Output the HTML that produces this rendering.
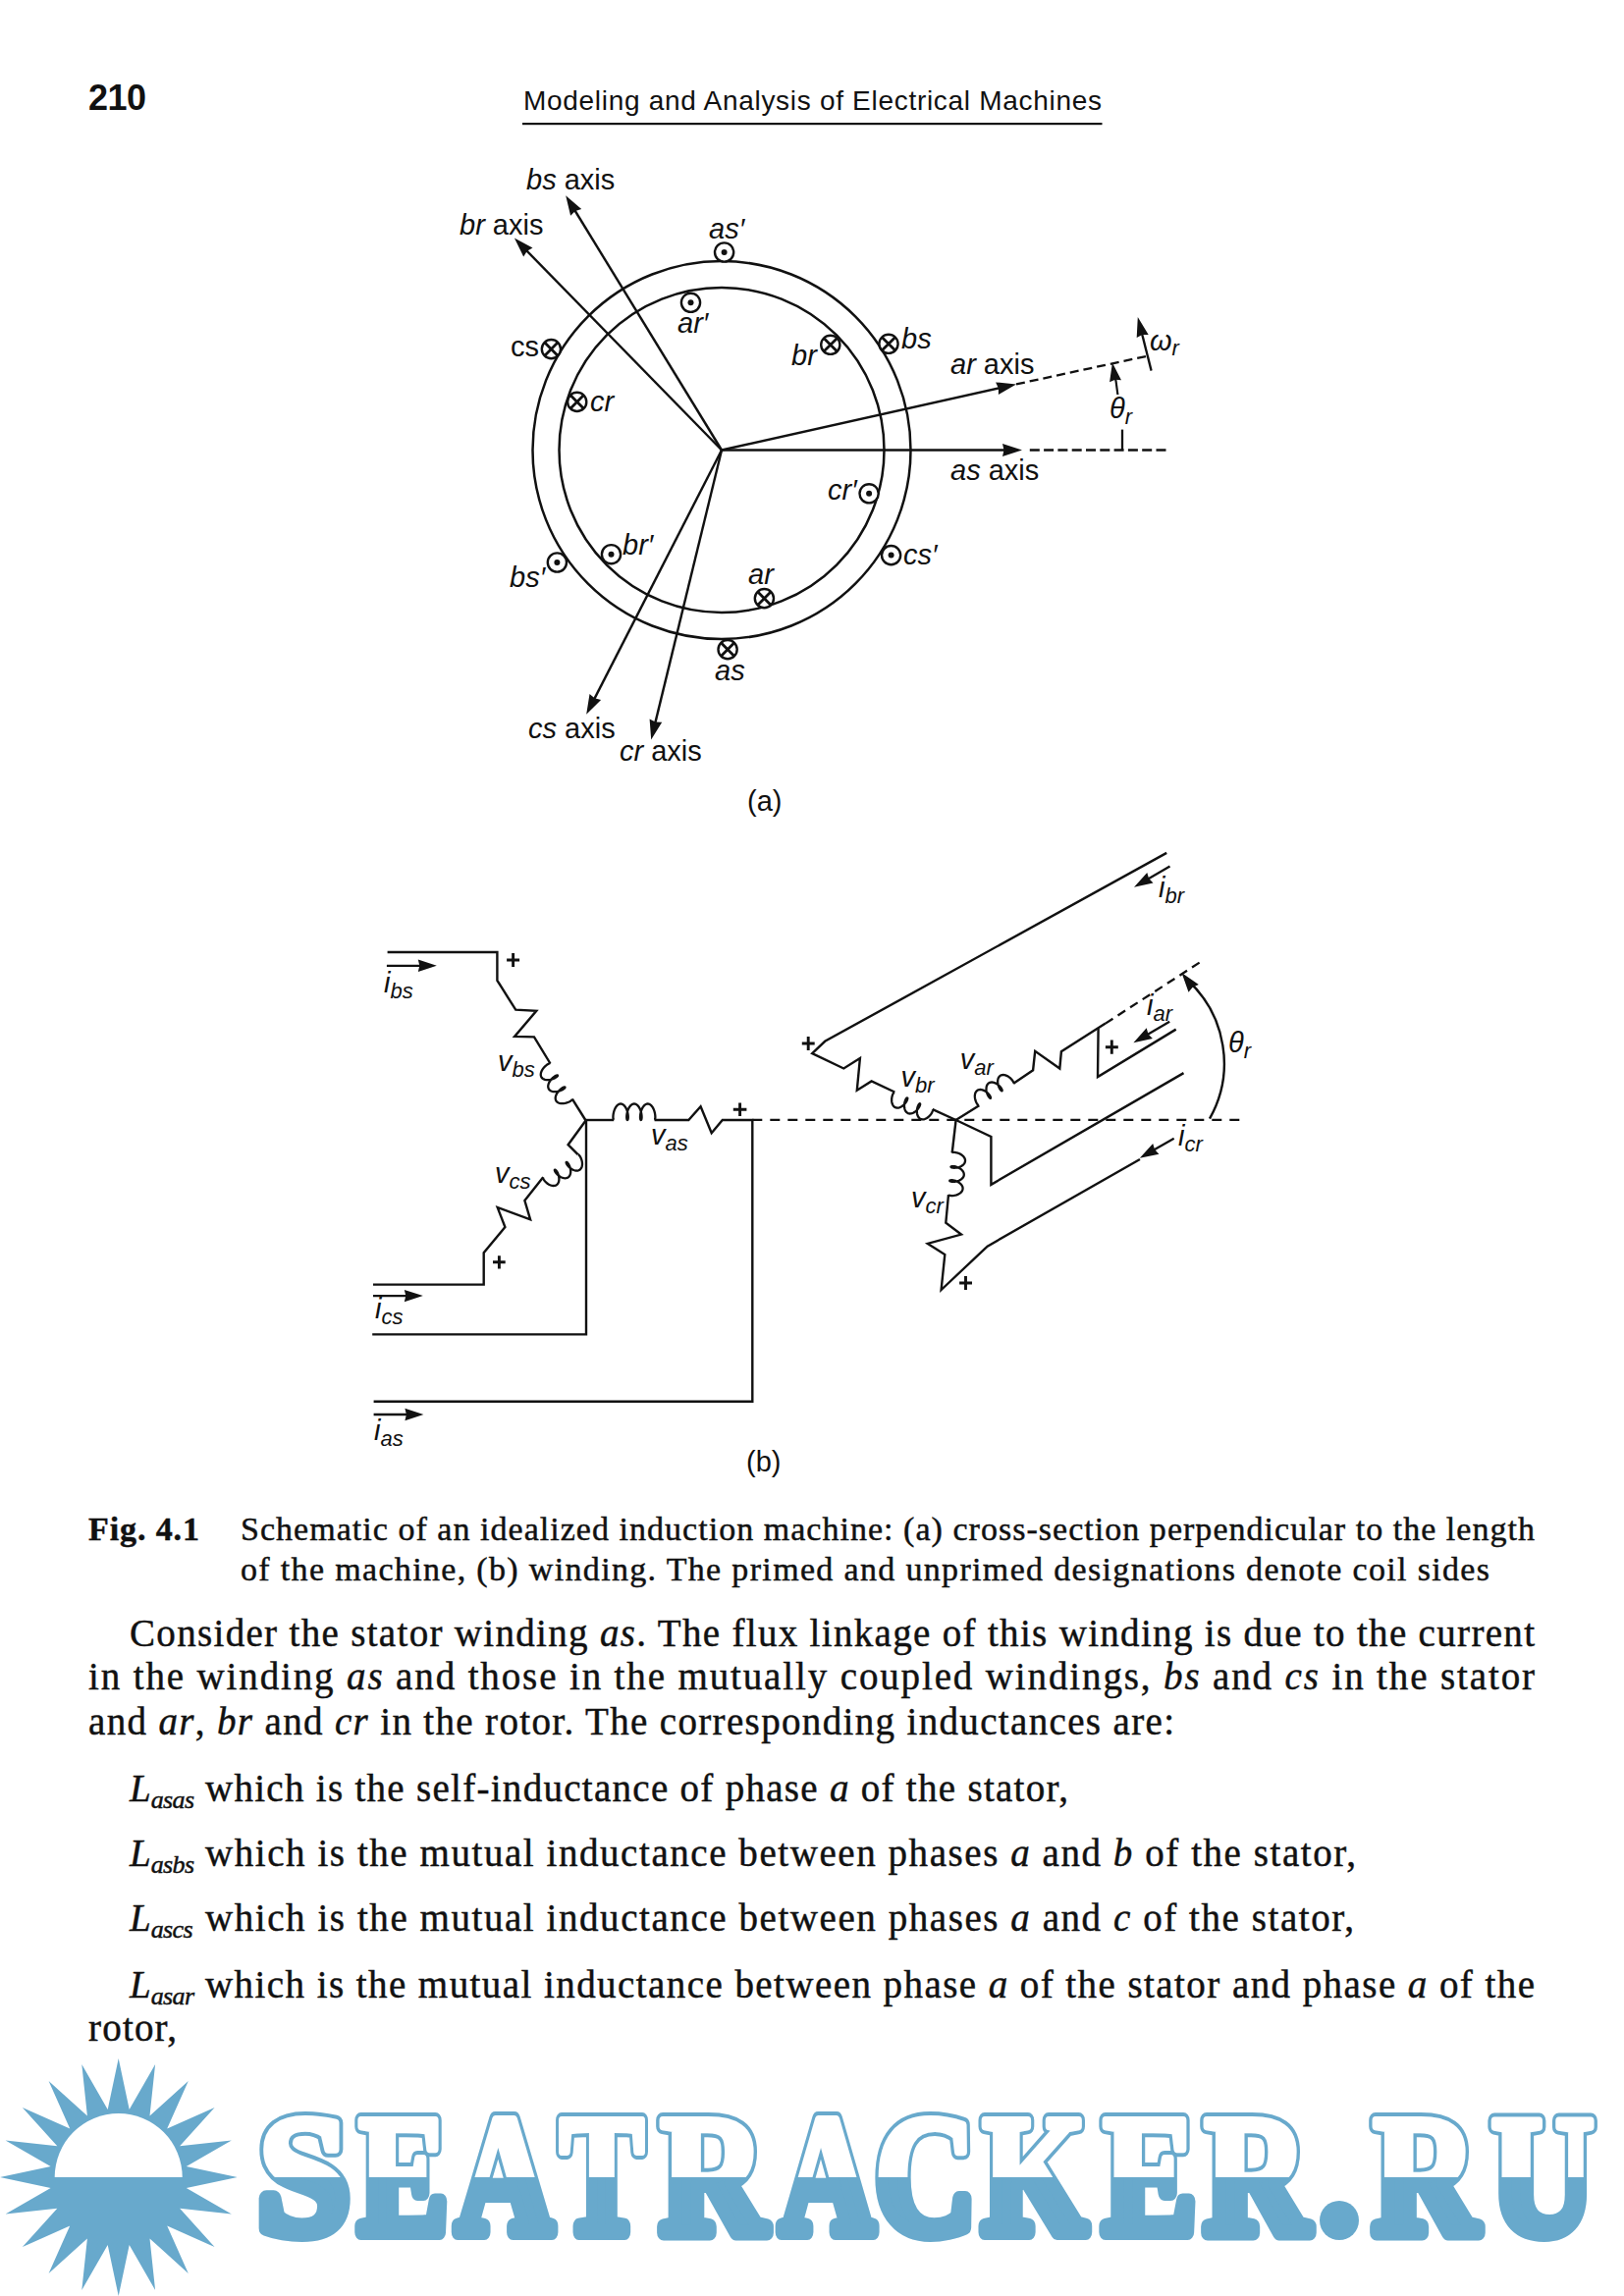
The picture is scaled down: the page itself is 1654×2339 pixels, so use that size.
<!DOCTYPE html>
<html><head><meta charset="utf-8"><style>
html,body{margin:0;padding:0;background:#fff;}
svg{display:block;}

</style></head><body>
<svg width="1654" height="2339" viewBox="0 0 1654 2339">
<rect width="1654" height="2339" fill="#fff"/>
<g fill="#111" font-family="Liberation Sans, sans-serif">
<text x="90" y="111.6" font-size="36" font-weight="bold" textLength="59" lengthAdjust="spacing">210</text>
<text x="533" y="111.6" font-size="28" textLength="589" lengthAdjust="spacing">Modeling and Analysis of Electrical Machines</text>
</g>
<rect x="532" y="125" width="590.5" height="2.2" fill="#111"/>
<g fill="#111" stroke="#111" stroke-width="0.45">
<text x="90" y="1569" font-size="34" font-weight="bold" font-family="Liberation Serif, serif" textLength="113" lengthAdjust="spacing">Fig. 4.1</text>
<text x="245" y="1568.5" font-size="34" font-family="Liberation Serif, serif" textLength="1318" lengthAdjust="spacing" >Schematic of an idealized induction machine: (a) cross-section perpendicular to the length</text>
<text x="245" y="1609.5" font-size="34" font-family="Liberation Serif, serif" textLength="1272" lengthAdjust="spacing" >of the machine, (b) winding. The primed and unprimed designations denote coil sides</text>
<text x="132" y="1677" font-size="39" font-family="Liberation Serif, serif" textLength="1431" lengthAdjust="spacing" >Consider the stator winding <tspan font-style="italic">as</tspan>. The flux linkage of this winding is due to the current</text>
<text x="90" y="1721.3" font-size="39" font-family="Liberation Serif, serif" textLength="1473" lengthAdjust="spacing" >in the winding <tspan font-style="italic">as</tspan> and those in the mutually coupled windings, <tspan font-style="italic">bs</tspan> and <tspan font-style="italic">cs</tspan> in the stator</text>
<text x="90" y="1766.8" font-size="39" font-family="Liberation Serif, serif" textLength="1106" lengthAdjust="spacing" >and <tspan font-style="italic">ar</tspan>, <tspan font-style="italic">br</tspan> and <tspan font-style="italic">cr</tspan> in the rotor. The corresponding inductances are:</text>
<text x="132" y="1834.6" font-size="39" font-family="Liberation Serif, serif"><tspan font-style="italic">L</tspan><tspan font-style="italic" font-size="26" dy="7" letter-spacing="-0.6">asas</tspan></text>
<text x="209" y="1834.6" font-size="39" font-family="Liberation Serif, serif" textLength="879" lengthAdjust="spacing" >which is the self-inductance of phase <tspan font-style="italic">a</tspan> of the stator,</text>
<text x="132" y="1900.8" font-size="39" font-family="Liberation Serif, serif"><tspan font-style="italic">L</tspan><tspan font-style="italic" font-size="26" dy="7" letter-spacing="-0.6">asbs</tspan></text>
<text x="209" y="1900.8" font-size="39" font-family="Liberation Serif, serif" textLength="1172" lengthAdjust="spacing" >which is the mutual inductance between phases <tspan font-style="italic">a</tspan> and <tspan font-style="italic">b</tspan> of the stator,</text>
<text x="132" y="1967" font-size="39" font-family="Liberation Serif, serif"><tspan font-style="italic">L</tspan><tspan font-style="italic" font-size="26" dy="7" letter-spacing="-0.6">ascs</tspan></text>
<text x="209" y="1967" font-size="39" font-family="Liberation Serif, serif" textLength="1170" lengthAdjust="spacing" >which is the mutual inductance between phases <tspan font-style="italic">a</tspan> and <tspan font-style="italic">c</tspan> of the stator,</text>
<text x="132" y="2034.8" font-size="39" font-family="Liberation Serif, serif"><tspan font-style="italic">L</tspan><tspan font-style="italic" font-size="26" dy="7" letter-spacing="-0.6">asar</tspan></text>
<text x="209" y="2034.8" font-size="39" font-family="Liberation Serif, serif" textLength="1354" lengthAdjust="spacing" >which is the mutual inductance between phase <tspan font-style="italic">a</tspan> of the stator and phase <tspan font-style="italic">a</tspan> of the</text>
<text x="90" y="2079.4" font-size="39" font-family="Liberation Serif, serif" textLength="90" lengthAdjust="spacing">rotor,</text>
</g>
<polygon points="120.7,2097.0 131.7,2148.9 158.1,2102.9 152.5,2155.6 191.8,2120.1 170.2,2168.5 218.6,2146.9 183.1,2186.2 235.8,2180.6 189.8,2207.0 241.7,2218.0 189.8,2229.0 235.8,2255.4 183.1,2249.8 218.6,2289.1 170.2,2267.5 191.8,2315.9 152.5,2280.4 158.1,2333.1 131.7,2287.1 120.7,2339.0 109.7,2287.1 83.3,2333.1 88.9,2280.4 49.6,2315.9 71.2,2267.5 22.8,2289.1 58.3,2249.8 5.6,2255.4 51.6,2229.0 -0.3,2218.0 51.6,2207.0 5.6,2180.6 58.3,2186.2 22.8,2146.9 71.2,2168.5 49.6,2120.1 88.9,2155.6 83.3,2102.9 109.7,2148.9" fill="#68a9cc"/>
<path d="M55.7,2218 A65,65 0 0 1 185.7,2218 Z" fill="#fff"/>
<defs><clipPath id="ctop"><rect x="0" y="2100" width="1654" height="118"/></clipPath><clipPath id="cbot"><rect x="0" y="2218" width="1654" height="121"/></clipPath></defs>
<g font-family="Liberation Serif, serif" font-weight="bold" font-size="173" stroke-linejoin="round" clip-path="url(#ctop)" fill="#68a9cc" stroke="#68a9cc" stroke-width="16"><text x="262.5" y="2274.0" textLength="93.6" lengthAdjust="spacingAndGlyphs">S</text>
<text x="365.3" y="2274.0" textLength="90.7" lengthAdjust="spacingAndGlyphs">E</text>
<text x="464.7" y="2274.0" textLength="98.3" lengthAdjust="spacingAndGlyphs">A</text>
<text x="570.0" y="2274.0" textLength="86.0" lengthAdjust="spacingAndGlyphs">T</text>
<text x="672.5" y="2274.0" textLength="107.2" lengthAdjust="spacingAndGlyphs">R</text>
<text x="794.5" y="2274.0" textLength="95.9" lengthAdjust="spacingAndGlyphs">A</text>
<text x="891.0" y="2274.0" textLength="102.8" lengthAdjust="spacingAndGlyphs">C</text>
<text x="1000.4" y="2274.0" textLength="106.4" lengthAdjust="spacingAndGlyphs">K</text>
<text x="1123.6" y="2274.0" textLength="94.7" lengthAdjust="spacingAndGlyphs">E</text>
<text x="1226.5" y="2274.0" textLength="106.2" lengthAdjust="spacingAndGlyphs">R</text>
<text x="1398.5" y="2274.0" textLength="106.2" lengthAdjust="spacingAndGlyphs">R</text>
<text x="1518.4" y="2274.0" textLength="105.3" lengthAdjust="spacingAndGlyphs">U</text></g>
<g font-family="Liberation Serif, serif" font-weight="bold" font-size="173" stroke-linejoin="round" clip-path="url(#ctop)" fill="#fff" stroke="#fff" stroke-width="8"><text x="262.5" y="2274.0" textLength="93.6" lengthAdjust="spacingAndGlyphs">S</text>
<text x="365.3" y="2274.0" textLength="90.7" lengthAdjust="spacingAndGlyphs">E</text>
<text x="464.7" y="2274.0" textLength="98.3" lengthAdjust="spacingAndGlyphs">A</text>
<text x="570.0" y="2274.0" textLength="86.0" lengthAdjust="spacingAndGlyphs">T</text>
<text x="672.5" y="2274.0" textLength="107.2" lengthAdjust="spacingAndGlyphs">R</text>
<text x="794.5" y="2274.0" textLength="95.9" lengthAdjust="spacingAndGlyphs">A</text>
<text x="891.0" y="2274.0" textLength="102.8" lengthAdjust="spacingAndGlyphs">C</text>
<text x="1000.4" y="2274.0" textLength="106.4" lengthAdjust="spacingAndGlyphs">K</text>
<text x="1123.6" y="2274.0" textLength="94.7" lengthAdjust="spacingAndGlyphs">E</text>
<text x="1226.5" y="2274.0" textLength="106.2" lengthAdjust="spacingAndGlyphs">R</text>
<text x="1398.5" y="2274.0" textLength="106.2" lengthAdjust="spacingAndGlyphs">R</text>
<text x="1518.4" y="2274.0" textLength="105.3" lengthAdjust="spacingAndGlyphs">U</text></g>
<g font-family="Liberation Serif, serif" font-weight="bold" font-size="173" stroke-linejoin="round" clip-path="url(#cbot)" fill="#68a9cc" stroke="#68a9cc" stroke-width="16"><text x="262.5" y="2274.0" textLength="93.6" lengthAdjust="spacingAndGlyphs">S</text>
<text x="365.3" y="2274.0" textLength="90.7" lengthAdjust="spacingAndGlyphs">E</text>
<text x="464.7" y="2274.0" textLength="98.3" lengthAdjust="spacingAndGlyphs">A</text>
<text x="570.0" y="2274.0" textLength="86.0" lengthAdjust="spacingAndGlyphs">T</text>
<text x="672.5" y="2274.0" textLength="107.2" lengthAdjust="spacingAndGlyphs">R</text>
<text x="794.5" y="2274.0" textLength="95.9" lengthAdjust="spacingAndGlyphs">A</text>
<text x="891.0" y="2274.0" textLength="102.8" lengthAdjust="spacingAndGlyphs">C</text>
<text x="1000.4" y="2274.0" textLength="106.4" lengthAdjust="spacingAndGlyphs">K</text>
<text x="1123.6" y="2274.0" textLength="94.7" lengthAdjust="spacingAndGlyphs">E</text>
<text x="1226.5" y="2274.0" textLength="106.2" lengthAdjust="spacingAndGlyphs">R</text>
<text x="1398.5" y="2274.0" textLength="106.2" lengthAdjust="spacingAndGlyphs">R</text>
<text x="1518.4" y="2274.0" textLength="105.3" lengthAdjust="spacingAndGlyphs">U</text></g>
<circle cx="1364" cy="2262" r="20" fill="#68a9cc"/>
<g stroke="#111" fill="none">
<circle cx="735" cy="458.5" r="192.5" stroke-width="2.5"/>
<circle cx="735" cy="458.5" r="165.5" stroke-width="2.5"/>
<line x1="735.0" y1="458.5" x2="1029.0" y2="458.5" stroke-width="2.4" />
<polygon points="1041.0,458.5 1021.0,465.0 1022.5,458.5 1021.0,452.0" fill="#111" stroke="none"/>
<line x1="735.0" y1="458.5" x2="1023.3" y2="394.0" stroke-width="2.4" />
<polygon points="1035.0,391.4 1016.9,402.1 1016.9,395.4 1014.1,389.4" fill="#111" stroke="none"/>
<line x1="735.0" y1="458.5" x2="582.5" y2="209.5" stroke-width="2.4" />
<polygon points="576.2,199.3 592.2,213.0 585.9,215.1 581.1,219.7" fill="#111" stroke="none"/>
<line x1="735.0" y1="458.5" x2="532.3" y2="251.2" stroke-width="2.4" />
<polygon points="523.9,242.6 542.5,252.4 536.8,255.8 533.2,261.4" fill="#111" stroke="none"/>
<line x1="735.0" y1="458.5" x2="602.7" y2="717.1" stroke-width="2.4" />
<polygon points="597.2,727.8 600.5,707.0 605.6,711.3 612.1,713.0" fill="#111" stroke="none"/>
<line x1="735.0" y1="458.5" x2="666.0" y2="741.9" stroke-width="2.4" />
<polygon points="663.2,753.6 661.6,732.6 667.6,735.6 674.2,735.7" fill="#111" stroke="none"/>
<line x1="1048.8" y1="458.5" x2="1189.5" y2="458.5" stroke-width="2.5" stroke-dasharray="10 4.3" />
<line x1="1035.0" y1="391.4" x2="1168.0" y2="362.8" stroke-width="2.3" stroke-dasharray="9 5" />
<line x1="1143.0" y1="437.6" x2="1143.0" y2="458.5" stroke-width="2.3" />
<path d="M1138.4,402 Q1137,388 1134,376" stroke-width="2.2"/>
<polygon points="1132.9,369.5 1142.0,387.2 1135.8,386.8 1130.1,389.2" fill="#111" stroke="none"/>
<line x1="1172.6" y1="377.6" x2="1161.7" y2="334.6" stroke-width="2.3" />
<polygon points="1158.8,323.0 1169.7,340.9 1163.3,340.9 1157.7,343.9" fill="#111" stroke="none"/>
<circle cx="737.6" cy="257" r="9.6" fill="#fff" stroke-width="2.4"/>
<circle cx="737.6" cy="257" r="3" fill="#111" stroke="none"/>
<circle cx="703.5" cy="308.3" r="9.6" fill="#fff" stroke-width="2.4"/>
<circle cx="703.5" cy="308.3" r="3" fill="#111" stroke="none"/>
<circle cx="561.4" cy="355.6" r="9.6" fill="#fff" stroke-width="2.4"/>
<path d="M554.6,348.8 L568.2,362.4 M554.6,362.4 L568.2,348.8" stroke-width="2.8"/>
<circle cx="587.7" cy="409.4" r="9.6" fill="#fff" stroke-width="2.4"/>
<path d="M580.9,402.6 L594.5,416.2 M580.9,416.2 L594.5,402.6" stroke-width="2.8"/>
<circle cx="845.8" cy="351.3" r="9.6" fill="#fff" stroke-width="2.4"/>
<path d="M839.0,344.5 L852.6,358.1 M839.0,358.1 L852.6,344.5" stroke-width="2.8"/>
<circle cx="905" cy="350.3" r="9.6" fill="#fff" stroke-width="2.4"/>
<path d="M898.2,343.5 L911.8,357.1 M898.2,357.1 L911.8,343.5" stroke-width="2.8"/>
<circle cx="885.1" cy="502.8" r="9.6" fill="#fff" stroke-width="2.4"/>
<circle cx="885.1" cy="502.8" r="3" fill="#111" stroke="none"/>
<circle cx="907.6" cy="565.6" r="9.6" fill="#fff" stroke-width="2.4"/>
<circle cx="907.6" cy="565.6" r="3" fill="#111" stroke="none"/>
<circle cx="567.4" cy="573" r="9.6" fill="#fff" stroke-width="2.4"/>
<circle cx="567.4" cy="573" r="3" fill="#111" stroke="none"/>
<circle cx="622.5" cy="564.7" r="9.6" fill="#fff" stroke-width="2.4"/>
<circle cx="622.5" cy="564.7" r="3" fill="#111" stroke="none"/>
<circle cx="778.4" cy="609.6" r="9.6" fill="#fff" stroke-width="2.4"/>
<path d="M771.6,602.8 L785.2,616.4 M771.6,616.4 L785.2,602.8" stroke-width="2.8"/>
<circle cx="741.1" cy="661.6" r="9.6" fill="#fff" stroke-width="2.4"/>
<path d="M734.3,654.8 L747.9,668.4 M734.3,668.4 L747.9,654.8" stroke-width="2.8"/>
</g>
<g fill="#111" font-family="Liberation Sans, sans-serif">
<text x="536" y="193" font-size="29"  text-anchor="start"><tspan font-style="italic">bs</tspan><tspan dy="0"> axis</tspan></text>
<text x="468" y="238.5" font-size="29"  text-anchor="start"><tspan font-style="italic">br</tspan><tspan dy="0"> axis</tspan></text>
<text x="722" y="243" font-size="29"  text-anchor="start"><tspan font-style="italic">as&#8242;</tspan></text>
<text x="690" y="339" font-size="29"  text-anchor="start"><tspan font-style="italic">ar&#8242;</tspan></text>
<text x="520" y="362.6" font-size="29"  text-anchor="start"><tspan >cs</tspan></text>
<text x="601" y="419.3" font-size="29"  text-anchor="start"><tspan font-style="italic">cr</tspan></text>
<text x="806" y="372.4" font-size="29"  text-anchor="start"><tspan font-style="italic">br</tspan></text>
<text x="918" y="354.6" font-size="29"  text-anchor="start"><tspan font-style="italic">bs</tspan></text>
<text x="968" y="381.3" font-size="29"  text-anchor="start"><tspan font-style="italic">ar</tspan><tspan dy="0"> axis</tspan></text>
<text x="1171" y="357" font-size="29"><tspan font-style="italic">&#969;</tspan><tspan font-style="italic" font-size="22" dy="5">r</tspan></text>
<text x="1130" y="425.6" font-size="29"><tspan font-style="italic">&#952;</tspan><tspan font-style="italic" font-size="22" dy="6">r</tspan></text>
<text x="968" y="489" font-size="29"  text-anchor="start"><tspan font-style="italic">as</tspan><tspan dy="0"> axis</tspan></text>
<text x="843" y="508.8" font-size="29"  text-anchor="start"><tspan font-style="italic">cr&#8242;</tspan></text>
<text x="920" y="575.3" font-size="29"  text-anchor="start"><tspan font-style="italic">cs&#8242;</tspan></text>
<text x="519" y="597.6" font-size="29"  text-anchor="start"><tspan font-style="italic">bs&#8242;</tspan></text>
<text x="634" y="565.3" font-size="29"  text-anchor="start"><tspan font-style="italic">br&#8242;</tspan></text>
<text x="762" y="595" font-size="29"  text-anchor="start"><tspan font-style="italic">ar</tspan></text>
<text x="728" y="692.6" font-size="29"  text-anchor="start"><tspan font-style="italic">as</tspan></text>
<text x="538" y="751.8" font-size="29"  text-anchor="start"><tspan font-style="italic">cs</tspan><tspan dy="0"> axis</tspan></text>
<text x="631" y="774.9" font-size="29"  text-anchor="start"><tspan font-style="italic">cr</tspan><tspan dy="0"> axis</tspan></text>
<text x="761" y="826" font-size="29"  text-anchor="start">(a)</text>
</g>
<g stroke="#111" fill="none" stroke-linecap="butt">
<polyline points="394.6,970.0 506.4,970.0 506.4,998.8 525.2,1028.7 546.3,1029.8 524.1,1055.9 544.0,1056.4 560.5,1083.5" fill="none" stroke-width="2.4" stroke-linejoin="miter" />
<path d="M0.00,-0.00 L-0.23,-0.11 L-0.45,-0.45 L-0.62,-1.00 L-0.74,-1.75 L-0.80,-2.68 L-0.76,-3.75 L-0.64,-4.93 L-0.40,-6.20 L-0.07,-7.50 L0.38,-8.80 L0.94,-10.07 L1.60,-11.25 L2.35,-12.32 L3.19,-13.25 L4.10,-14.00 L5.06,-14.55 L6.06,-14.89 L7.08,-15.00 L8.10,-14.89 L9.10,-14.55 L10.06,-14.00 L10.97,-13.25 L11.81,-12.32 L12.56,-11.25 L13.22,-10.07 L13.78,-8.80 L14.23,-7.50 L14.57,-6.20 L14.80,-4.93 L14.92,-3.75 L14.96,-2.68 L14.91,-1.75 L14.78,-1.00 L14.61,-0.45 L14.39,-0.11 L14.16,-0.00 L13.93,-0.11 L13.71,-0.45 L13.54,-1.00 L13.42,-1.75 L13.37,-2.68 L13.40,-3.75 L13.53,-4.93 L13.76,-6.20 L14.10,-7.50 L14.54,-8.80 L15.10,-10.07 L15.76,-11.25 L16.51,-12.32 L17.35,-13.25 L18.26,-14.00 L19.22,-14.55 L20.22,-14.89 L21.24,-15.00 L22.26,-14.89 L23.26,-14.55 L24.23,-14.00 L25.13,-13.25 L25.97,-12.32 L26.73,-11.25 L27.38,-10.07 L27.94,-8.80 L28.39,-7.50 L28.73,-6.20 L28.96,-4.93 L29.09,-3.75 L29.12,-2.68 L29.07,-1.75 L28.95,-1.00 L28.77,-0.45 L28.56,-0.11 L28.32,-0.00 L28.09,-0.11 L27.88,-0.45 L27.70,-1.00 L27.58,-1.75 L27.53,-2.68 L27.56,-3.75 L27.69,-4.93 L27.92,-6.20 L28.26,-7.50 L28.71,-8.80 L29.26,-10.07 L29.92,-11.25 L30.67,-12.32 L31.51,-13.25 L32.42,-14.00 L33.38,-14.55 L34.38,-14.89 L35.40,-15.00 L36.42,-14.89 L37.42,-14.55 L38.39,-14.00 L39.30,-13.25 L40.13,-12.32 L40.89,-11.25 L41.55,-10.07 L42.10,-8.80 L42.55,-7.50 L42.89,-6.20 L43.12,-4.93 L43.25,-3.75 L43.28,-2.68 L43.23,-1.75 L43.11,-1.00 L42.93,-0.45 L42.72,-0.11 L42.48,-0.00" fill="none" stroke-width="2.3" stroke-linejoin="round" transform="translate(582.9,1119.6) rotate(-121.82)"/>
<polyline points="582.9,1119.6 596.6,1141.5" fill="none" stroke-width="2.4" stroke-linejoin="miter" />
<polyline points="596.6,1141.0 625.2,1141.0" fill="none" stroke-width="2.4" stroke-linejoin="miter" />
<path d="M0.00,-0.00 L-0.23,-0.13 L-0.44,-0.50 L-0.61,-1.11 L-0.73,-1.93 L-0.78,-2.95 L-0.74,-4.12 L-0.62,-5.43 L-0.39,-6.82 L-0.06,-8.25 L0.37,-9.68 L0.91,-11.07 L1.56,-12.37 L2.29,-13.55 L3.11,-14.57 L3.99,-15.39 L4.93,-16.00 L5.91,-16.37 L6.90,-16.50 L7.89,-16.37 L8.87,-16.00 L9.81,-15.39 L10.69,-14.57 L11.51,-13.55 L12.24,-12.38 L12.89,-11.07 L13.43,-9.68 L13.86,-8.25 L14.19,-6.82 L14.42,-5.43 L14.54,-4.12 L14.58,-2.95 L14.53,-1.93 L14.41,-1.11 L14.24,-0.50 L14.03,-0.13 L13.80,-0.00 L13.57,-0.13 L13.36,-0.50 L13.19,-1.11 L13.07,-1.93 L13.02,-2.95 L13.06,-4.13 L13.18,-5.43 L13.41,-6.82 L13.74,-8.25 L14.17,-9.68 L14.71,-11.07 L15.36,-12.37 L16.09,-13.55 L16.91,-14.57 L17.79,-15.39 L18.73,-16.00 L19.71,-16.37 L20.70,-16.50 L21.69,-16.37 L22.67,-16.00 L23.61,-15.39 L24.49,-14.57 L25.31,-13.55 L26.04,-12.37 L26.69,-11.07 L27.23,-9.68 L27.66,-8.25 L27.99,-6.82 L28.22,-5.43 L28.34,-4.12 L28.38,-2.95 L28.33,-1.93 L28.21,-1.11 L28.04,-0.50 L27.83,-0.13 L27.60,-0.00 L27.37,-0.13 L27.16,-0.50 L26.99,-1.11 L26.87,-1.93 L26.82,-2.95 L26.86,-4.12 L26.98,-5.43 L27.21,-6.82 L27.54,-8.25 L27.97,-9.68 L28.51,-11.07 L29.16,-12.38 L29.89,-13.55 L30.71,-14.57 L31.59,-15.39 L32.53,-16.00 L33.51,-16.37 L34.50,-16.50 L35.49,-16.37 L36.47,-16.00 L37.41,-15.39 L38.29,-14.57 L39.11,-13.55 L39.84,-12.38 L40.49,-11.07 L41.03,-9.68 L41.46,-8.25 L41.79,-6.82 L42.02,-5.43 L42.14,-4.12 L42.18,-2.95 L42.13,-1.93 L42.01,-1.11 L41.84,-0.50 L41.63,-0.13 L41.40,-0.00" fill="none" stroke-width="2.3" stroke-linejoin="round" transform="translate(625.2,1141.0) rotate(0.00)"/>
<polyline points="666.6,1141.0 701.3,1141.0 713.6,1127.2 724.7,1154.3 735.8,1141.0 766.3,1141.0 766.3,1427.8 380.6,1427.8" fill="none" stroke-width="2.4" stroke-linejoin="miter" />
<polyline points="596.6,1141.5 578.6,1166.2 588.6,1176.2" fill="none" stroke-width="2.4" stroke-linejoin="miter" />
<path d="M0.00,-0.00 L-0.23,-0.11 L-0.44,-0.42 L-0.62,-0.94 L-0.74,-1.64 L-0.79,-2.50 L-0.76,-3.50 L-0.63,-4.61 L-0.40,-5.78 L-0.07,-7.00 L0.38,-8.22 L0.93,-9.39 L1.59,-10.50 L2.34,-11.50 L3.17,-12.36 L4.08,-13.06 L5.04,-13.58 L6.03,-13.89 L7.05,-14.00 L8.06,-13.89 L9.05,-13.58 L10.01,-13.06 L10.92,-12.36 L11.75,-11.50 L12.50,-10.50 L13.16,-9.39 L13.71,-8.22 L14.16,-7.00 L14.49,-5.78 L14.72,-4.61 L14.85,-3.50 L14.88,-2.50 L14.83,-1.64 L14.71,-0.94 L14.53,-0.42 L14.32,-0.11 L14.09,-0.00 L13.86,-0.11 L13.65,-0.42 L13.47,-0.94 L13.35,-1.64 L13.30,-2.50 L13.33,-3.50 L13.46,-4.61 L13.69,-5.78 L14.02,-7.00 L14.47,-8.22 L15.02,-9.39 L15.68,-10.50 L16.43,-11.50 L17.26,-12.36 L18.17,-13.06 L19.13,-13.58 L20.12,-13.89 L21.14,-14.00 L22.15,-13.89 L23.15,-13.58 L24.10,-13.06 L25.01,-12.36 L25.84,-11.50 L26.59,-10.50 L27.25,-9.39 L27.80,-8.22 L28.25,-7.00 L28.58,-5.78 L28.81,-4.61 L28.94,-3.50 L28.97,-2.50 L28.92,-1.64 L28.80,-0.94 L28.62,-0.42 L28.41,-0.11 L28.18,-0.00 L27.95,-0.11 L27.74,-0.42 L27.56,-0.94 L27.44,-1.64 L27.39,-2.50 L27.42,-3.50 L27.55,-4.61 L27.78,-5.78 L28.11,-7.00 L28.56,-8.22 L29.11,-9.39 L29.77,-10.50 L30.52,-11.50 L31.35,-12.36 L32.26,-13.06 L33.22,-13.58 L34.21,-13.89 L35.23,-14.00 L36.24,-13.89 L37.24,-13.58 L38.19,-13.06 L39.10,-12.36 L39.93,-11.50 L40.68,-10.50 L41.34,-9.39 L41.89,-8.22 L42.34,-7.00 L42.67,-5.78 L42.90,-4.61 L43.03,-3.50 L43.06,-2.50 L43.01,-1.64 L42.89,-0.94 L42.71,-0.42 L42.50,-0.11 L42.27,-0.00" fill="none" stroke-width="2.3" stroke-linejoin="round" transform="translate(588.6,1176.2) rotate(146.87)"/>
<polyline points="553.2,1199.3 534.4,1223.1 540.1,1242.4 506.7,1230.1 514.4,1250.1 492.7,1276.2 492.7,1308.6 380.0,1308.6" fill="none" stroke-width="2.4" stroke-linejoin="miter" />
<polyline points="597.0,1141.5 597.0,1359.4 379.2,1359.4" fill="none" stroke-width="2.4" stroke-linejoin="miter" />
<line x1="393.9" y1="983.8" x2="433.4" y2="983.8" stroke-width="2.3" />
<polygon points="444.8,983.8 425.8,990.0 427.3,983.8 425.8,977.6" fill="#111" stroke="none"/>
<line x1="380.0" y1="1320.1" x2="419.4" y2="1320.1" stroke-width="2.3" />
<polygon points="430.8,1320.1 411.8,1326.3 413.3,1320.1 411.8,1313.9" fill="#111" stroke="none"/>
<line x1="380.6" y1="1441.0" x2="420.0" y2="1441.0" stroke-width="2.3" />
<polygon points="431.4,1441.0 412.4,1447.2 413.9,1441.0 412.4,1434.8" fill="#111" stroke="none"/>
<path d="M516.1,978.0 H529.1 M522.6,971.1 V985" stroke-width="2.9"/>
<path d="M746.8,1130.2 H760.4 M753.6,1123.5 V1137" stroke-width="2.9"/>
<path d="M502,1285.8 H514.7 M508.4,1279.3 V1292.4" stroke-width="2.9"/>
<line x1="766.3" y1="1140.9" x2="1264.0" y2="1140.9" stroke-width="2.3" stroke-dasharray="10 8" />
<polyline points="1188.2,868.9 840.2,1060.8 827.2,1073.1 859.3,1088.5 875.9,1078.0 872.8,1110.7 887.6,1101.4 911.2,1112.5" fill="none" stroke-width="2.4" stroke-linejoin="miter" />
<path d="M0.00,-0.00 L-0.23,-0.11 L-0.45,-0.42 L-0.62,-0.94 L-0.74,-1.64 L-0.79,-2.50 L-0.76,-3.50 L-0.63,-4.61 L-0.40,-5.78 L-0.07,-7.00 L0.38,-8.22 L0.94,-9.39 L1.60,-10.50 L2.35,-11.50 L3.18,-12.36 L4.09,-13.06 L5.05,-13.58 L6.05,-13.89 L7.07,-14.00 L8.09,-13.89 L9.09,-13.58 L10.05,-13.06 L10.96,-12.36 L11.79,-11.50 L12.55,-10.50 L13.20,-9.39 L13.76,-8.22 L14.21,-7.00 L14.54,-5.78 L14.78,-4.61 L14.90,-3.50 L14.94,-2.50 L14.88,-1.64 L14.76,-0.94 L14.59,-0.42 L14.37,-0.11 L14.14,-0.00 L13.91,-0.11 L13.70,-0.42 L13.52,-0.94 L13.40,-1.64 L13.35,-2.50 L13.38,-3.50 L13.51,-4.61 L13.74,-5.78 L14.08,-7.00 L14.52,-8.22 L15.08,-9.39 L15.74,-10.50 L16.49,-11.50 L17.33,-12.36 L18.23,-13.06 L19.19,-13.58 L20.19,-13.89 L21.21,-14.00 L22.23,-13.89 L23.23,-13.58 L24.19,-13.06 L25.10,-12.36 L25.93,-11.50 L26.69,-10.50 L27.35,-9.39 L27.90,-8.22 L28.35,-7.00 L28.69,-5.78 L28.92,-4.61 L29.04,-3.50 L29.08,-2.50 L29.03,-1.64 L28.90,-0.94 L28.73,-0.42 L28.51,-0.11 L28.28,-0.00 L28.05,-0.11 L27.84,-0.42 L27.66,-0.94 L27.54,-1.64 L27.49,-2.50 L27.52,-3.50 L27.65,-4.61 L27.88,-5.78 L28.22,-7.00 L28.66,-8.22 L29.22,-9.39 L29.88,-10.50 L30.63,-11.50 L31.47,-12.36 L32.37,-13.06 L33.34,-13.58 L34.33,-13.89 L35.35,-14.00 L36.37,-13.89 L37.37,-13.58 L38.33,-13.06 L39.24,-12.36 L40.08,-11.50 L40.83,-10.50 L41.49,-9.39 L42.04,-8.22 L42.49,-7.00 L42.83,-5.78 L43.06,-4.61 L43.18,-3.50 L43.22,-2.50 L43.17,-1.64 L43.05,-0.94 L42.87,-0.42 L42.66,-0.11 L42.42,-0.00" fill="none" stroke-width="2.3" stroke-linejoin="round" transform="translate(949.8,1130.1) rotate(-155.49)"/>
<polyline points="949.8,1130.1 973.6,1141.0" fill="none" stroke-width="2.4" stroke-linejoin="miter" />
<polyline points="973.6,1141.0 997.2,1126.3" fill="none" stroke-width="2.4" stroke-linejoin="miter" />
<path d="M0.00,-0.00 L-0.23,-0.11 L-0.44,-0.42 L-0.61,-0.94 L-0.73,-1.64 L-0.78,-2.50 L-0.75,-3.50 L-0.62,-4.61 L-0.40,-5.78 L-0.06,-7.00 L0.37,-8.22 L0.92,-9.39 L1.56,-10.50 L2.30,-11.50 L3.12,-12.36 L4.01,-13.06 L4.96,-13.58 L5.94,-13.89 L6.93,-14.00 L7.93,-13.89 L8.91,-13.58 L9.86,-13.06 L10.75,-12.36 L11.57,-11.50 L12.30,-10.50 L12.95,-9.39 L13.49,-8.22 L13.93,-7.00 L14.27,-5.78 L14.49,-4.61 L14.62,-3.50 L14.65,-2.50 L14.60,-1.64 L14.48,-0.94 L14.31,-0.42 L14.10,-0.11 L13.87,-0.00 L13.64,-0.11 L13.43,-0.42 L13.26,-0.94 L13.14,-1.64 L13.09,-2.50 L13.12,-3.50 L13.25,-4.61 L13.47,-5.78 L13.80,-7.00 L14.24,-8.22 L14.79,-9.39 L15.43,-10.50 L16.17,-11.50 L16.99,-12.36 L17.88,-13.06 L18.83,-13.58 L19.81,-13.89 L20.80,-14.00 L21.80,-13.89 L22.78,-13.58 L23.73,-13.06 L24.62,-12.36 L25.44,-11.50 L26.17,-10.50 L26.82,-9.39 L27.36,-8.22 L27.80,-7.00 L28.13,-5.78 L28.36,-4.61 L28.49,-3.50 L28.52,-2.50 L28.47,-1.64 L28.35,-0.94 L28.18,-0.42 L27.97,-0.11 L27.74,-0.00 L27.51,-0.11 L27.30,-0.42 L27.13,-0.94 L27.01,-1.64 L26.96,-2.50 L26.99,-3.50 L27.12,-4.61 L27.34,-5.78 L27.67,-7.00 L28.11,-8.22 L28.66,-9.39 L29.30,-10.50 L30.04,-11.50 L30.86,-12.36 L31.75,-13.06 L32.70,-13.58 L33.68,-13.89 L34.67,-14.00 L35.67,-13.89 L36.65,-13.58 L37.60,-13.06 L38.48,-12.36 L39.31,-11.50 L40.04,-10.50 L40.69,-9.39 L41.23,-8.22 L41.67,-7.00 L42.00,-5.78 L42.23,-4.61 L42.36,-3.50 L42.39,-2.50 L42.34,-1.64 L42.22,-0.94 L42.05,-0.42 L41.84,-0.11 L41.61,-0.00" fill="none" stroke-width="2.3" stroke-linejoin="round" transform="translate(997.2,1126.3) rotate(-32.74)"/>
<polyline points="1032.2,1103.8 1052.1,1090.2 1054.2,1070.8 1079.3,1088.6 1080.9,1071.3 1125.9,1042.6" fill="none" stroke-width="2.4" stroke-linejoin="miter" />
<polyline points="1118.6,1047.8 1118.0,1097.0 1197.7,1048.6" fill="none" stroke-width="2.4" stroke-linejoin="miter" />
<line x1="1125.9" y1="1042.6" x2="1225.5" y2="978.1" stroke-width="2.3" stroke-dasharray="9 6" />
<polyline points="973.6,1141.0 969.7,1174.5" fill="none" stroke-width="2.4" stroke-linejoin="miter" />
<path d="M0.00,-0.00 L-0.23,-0.11 L-0.45,-0.42 L-0.63,-0.94 L-0.75,-1.64 L-0.80,-2.50 L-0.77,-3.50 L-0.64,-4.61 L-0.41,-5.78 L-0.07,-7.00 L0.38,-8.22 L0.94,-9.39 L1.60,-10.50 L2.36,-11.50 L3.20,-12.36 L4.11,-13.06 L5.08,-13.58 L6.09,-13.89 L7.11,-14.00 L8.13,-13.89 L9.14,-13.58 L10.11,-13.06 L11.02,-12.36 L11.86,-11.50 L12.62,-10.50 L13.28,-9.39 L13.84,-8.22 L14.29,-7.00 L14.63,-5.78 L14.86,-4.61 L14.99,-3.50 L15.02,-2.50 L14.97,-1.64 L14.85,-0.94 L14.67,-0.42 L14.45,-0.11 L14.22,-0.00 L13.99,-0.11 L13.77,-0.42 L13.59,-0.94 L13.47,-1.64 L13.42,-2.50 L13.45,-3.50 L13.58,-4.61 L13.81,-5.78 L14.15,-7.00 L14.60,-8.22 L15.16,-9.39 L15.82,-10.50 L16.58,-11.50 L17.42,-12.36 L18.33,-13.06 L19.30,-13.58 L20.31,-13.89 L21.33,-14.00 L22.35,-13.89 L23.36,-13.58 L24.33,-13.06 L25.24,-12.36 L26.08,-11.50 L26.84,-10.50 L27.50,-9.39 L28.06,-8.22 L28.51,-7.00 L28.85,-5.78 L29.08,-4.61 L29.21,-3.50 L29.24,-2.50 L29.19,-1.64 L29.07,-0.94 L28.89,-0.42 L28.67,-0.11 L28.44,-0.00 L28.21,-0.11 L27.99,-0.42 L27.81,-0.94 L27.69,-1.64 L27.64,-2.50 L27.67,-3.50 L27.80,-4.61 L28.03,-5.78 L28.37,-7.00 L28.82,-8.22 L29.38,-9.39 L30.04,-10.50 L30.80,-11.50 L31.64,-12.36 L32.56,-13.06 L33.52,-13.58 L34.53,-13.89 L35.55,-14.00 L36.57,-13.89 L37.58,-13.58 L38.55,-13.06 L39.46,-12.36 L40.30,-11.50 L41.06,-10.50 L41.72,-9.39 L42.28,-8.22 L42.73,-7.00 L43.07,-5.78 L43.30,-4.61 L43.43,-3.50 L43.46,-2.50 L43.41,-1.64 L43.29,-0.94 L43.11,-0.42 L42.89,-0.11 L42.66,-0.00" fill="none" stroke-width="2.3" stroke-linejoin="round" transform="translate(969.7,1174.5) rotate(94.98)"/>
<polyline points="966.0,1217.0 963.3,1245.6 979.0,1257.6 944.8,1266.9 962.3,1278.0 958.6,1314.0 1005.7,1269.6 1161.0,1181.0" fill="none" stroke-width="2.4" stroke-linejoin="miter" />
<polyline points="973.6,1141.0 1009.4,1157.9 1009.4,1206.8 1205.5,1093.1" fill="none" stroke-width="2.4" stroke-linejoin="miter" />
<line x1="1191.2" y1="1040.8" x2="1164.3" y2="1056.5" stroke-width="2.3" />
<polygon points="1154.4,1062.2 1167.7,1047.3 1169.5,1053.4 1173.9,1058.0" fill="#111" stroke="none"/>
<line x1="1191.5" y1="882.6" x2="1164.9" y2="898.1" stroke-width="2.3" />
<polygon points="1155.0,903.8 1168.3,888.9 1170.1,895.0 1174.5,899.6" fill="#111" stroke="none"/>
<line x1="1195.7" y1="1159.8" x2="1170.7" y2="1174.1" stroke-width="2.3" />
<polygon points="1160.8,1179.8 1174.2,1165.0 1176.0,1171.1 1180.4,1175.7" fill="#111" stroke="none"/>
<path d="M1232,1139.7 A115,115 0 0 0 1209,998" stroke-width="2.4"/>
<polygon points="1203.5,991.0 1220.8,1003.0 1214.7,1005.7 1210.5,1010.8" fill="#111" stroke="none"/>
<path d="M816.8,1063.0 H829.7 M823.2,1056 V1070" stroke-width="2.9"/>
<path d="M1125.9,1066.7 H1138.8 M1132.3,1059.6 V1073.8" stroke-width="2.9"/>
<path d="M977.1,1307.0 H990 M983.5,1300 V1314" stroke-width="2.9"/>
</g>
<g fill="#111" font-family="Liberation Sans, sans-serif">
<text x="391" y="1011" font-size="29"  text-anchor="start"><tspan font-style="italic">i</tspan><tspan font-style="italic" font-size="22" dy="6">bs</tspan></text>
<text x="507" y="1091" font-size="29"  text-anchor="start"><tspan font-style="italic">v</tspan><tspan font-style="italic" font-size="22" dy="6">bs</tspan></text>
<text x="663" y="1165.5" font-size="29"  text-anchor="start"><tspan font-style="italic">v</tspan><tspan font-style="italic" font-size="22" dy="6">as</tspan></text>
<text x="504" y="1204.8" font-size="29"  text-anchor="start"><tspan font-style="italic">v</tspan><tspan font-style="italic" font-size="22" dy="6">cs</tspan></text>
<text x="382" y="1342.6" font-size="29"  text-anchor="start"><tspan font-style="italic">i</tspan><tspan font-style="italic" font-size="22" dy="6">cs</tspan></text>
<text x="381" y="1467.3" font-size="29"  text-anchor="start"><tspan font-style="italic">i</tspan><tspan font-style="italic" font-size="22" dy="6">as</tspan></text>
<text x="760" y="1499" font-size="29"  text-anchor="start">(b)</text>
<text x="1180" y="914" font-size="29"  text-anchor="start"><tspan font-style="italic">i</tspan><tspan font-style="italic" font-size="22" dy="6">br</tspan></text>
<text x="1168" y="1033.5" font-size="29"  text-anchor="start"><tspan font-style="italic">i</tspan><tspan font-style="italic" font-size="22" dy="6">ar</tspan></text>
<text x="1251" y="1072" font-size="29"><tspan font-style="italic">&#952;</tspan><tspan font-style="italic" font-size="22" dy="6">r</tspan></text>
<text x="977.8" y="1088.9" font-size="29"  text-anchor="start"><tspan font-style="italic">v</tspan><tspan font-style="italic" font-size="22" dy="6">ar</tspan></text>
<text x="917.4" y="1106.5" font-size="29"  text-anchor="start"><tspan font-style="italic">v</tspan><tspan font-style="italic" font-size="22" dy="6">br</tspan></text>
<text x="1200" y="1167.4" font-size="29"  text-anchor="start"><tspan font-style="italic">i</tspan><tspan font-style="italic" font-size="22" dy="6">cr</tspan></text>
<text x="928" y="1230.4" font-size="29"  text-anchor="start"><tspan font-style="italic">v</tspan><tspan font-style="italic" font-size="22" dy="6">cr</tspan></text>
</g>
</svg>
</body></html>
